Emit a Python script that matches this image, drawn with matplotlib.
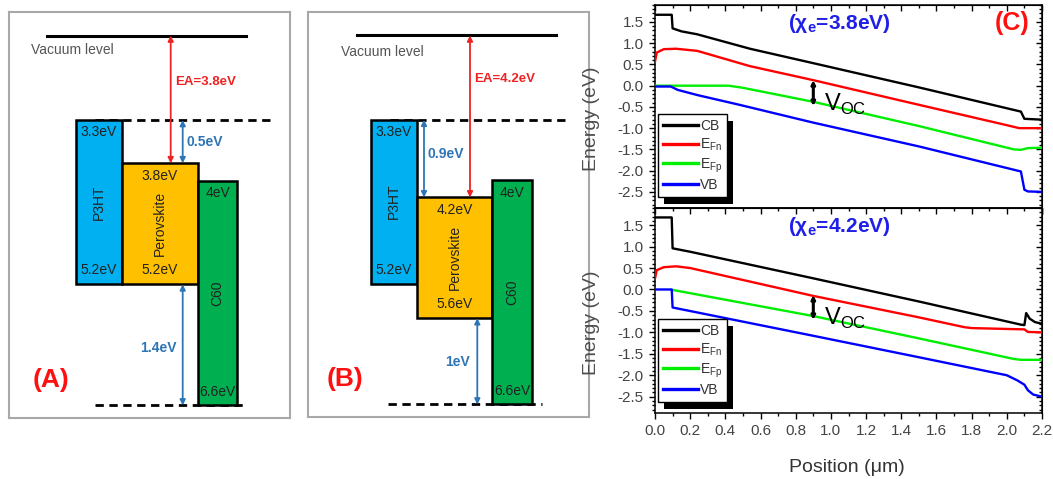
import matplotlib
matplotlib.use("Agg")
import matplotlib.pyplot as plt
from matplotlib.patches import Rectangle
from matplotlib.ticker import MultipleLocator, FormatStrFormatter

plt.rcParams['font.family'] = ['Liberation Sans', 'DejaVu Sans']

# ---- energy level schematics (eV below vacuum) ----
MATERIALS = ["P3HT", "Perovskite", "C60"]
LUMO_A = [3.3, 3.8, 4.0]
HOMO_A = [5.2, 5.2, 6.6]
LUMO_B = [3.3, 4.2, 4.0]
HOMO_B = [5.2, 5.6, 6.6]
BOX_COLORS = ["#00b0f0", "#ffc000", "#00b050"]

# ---- band diagrams, chi_e = 3.8 eV ----
X_CB_38 = [0, 0.095, 0.1, 0.15, 0.24, 0.54, 0.9, 1.5, 2.08, 2.1, 2.2]
CB_38 = [1.67, 1.67, 1.35, 1.28, 1.21, 0.87, 0.53, -0.04, -0.61, -0.78, -0.8]
X_FN_38 = [0, 0.01, 0.05, 0.12, 0.24, 0.54, 0.9, 1.5, 2.0, 2.07, 2.2]
FN_38 = [0.57, 0.78, 0.86, 0.87, 0.82, 0.46, 0.13, -0.45, -0.93, -1.0, -1.0]
X_FP_38 = [0, 0.42, 0.5, 0.9, 1.5, 2.04, 2.08, 2.12, 2.2]
FP_38 = [0.0, 0.0, -0.05, -0.38, -0.95, -1.5, -1.51, -1.47, -1.46]
X_VB_38 = [0, 0.09, 0.13, 0.24, 0.48, 0.9, 1.5, 2.08, 2.1, 2.12, 2.2]
VB_38 = [-0.02, -0.02, -0.1, -0.22, -0.45, -0.87, -1.43, -2.02, -2.45, -2.49, -2.5]

# ---- band diagrams, chi_e = 4.2 eV ----
X_CB_42 = [0, 0.095, 0.1, 0.2, 0.9, 1.5, 2.08, 2.1, 2.11, 2.13, 2.16, 2.2]
CB_42 = [1.68, 1.68, 0.96, 0.88, 0.26, -0.28, -0.82, -0.83, -0.55, -0.68, -0.76, -0.8]
X_FN_42 = [0, 0.01, 0.05, 0.12, 0.2, 0.9, 1.5, 1.76, 1.8, 2.1, 2.12, 2.2]
FN_42 = [0.26, 0.45, 0.52, 0.54, 0.5, -0.15, -0.65, -0.88, -0.9, -0.93, -0.99, -1.0]
X_FP_42 = [0.1, 0.9, 1.5, 2.04, 2.08, 2.2]
FP_42 = [-0.01, -0.62, -1.14, -1.62, -1.64, -1.64]
X_VB_42 = [0, 0.095, 0.1, 0.9, 1.5, 2.0, 2.06, 2.1, 2.12, 2.15, 2.2]
VB_42 = [0.0, 0.0, -0.42, -1.08, -1.58, -2.0, -2.12, -2.22, -2.35, -2.45, -2.5]

VOC_X = 0.9
VOC_38 = (0.13, -0.48)
VOC_42 = (-0.13, -0.71)

W, H = 1053, 479
fig = plt.figure(figsize=(W / 100, H / 100), dpi=100)


def px_axes(x0, y0, x1, y1):
    return fig.add_axes([x0 / W, 1 - y1 / H, (x1 - x0) / W, (y1 - y0) / H])


def py(y):
    # schematic pixel row -> energy scale used by the level panels
    return 3.3 + (y - 120) / 86.5


def level_panel(ax, lumo, homo, lay, tag):
    ax.set_xlim(0, 281)
    ax.set_ylim(py(418), py(12))
    ax.set_xticks([])
    ax.set_yticks([])
    for s in ax.spines.values():
        s.set_color("#a8a8a8")
        s.set_linewidth(1.5)

    vac = py(35.5)
    ax.plot(lay["vac"], [vac, vac], color="black", lw=2.2)
    ax.text(lay["vac_txt"], py(lay["vac_y"]), "Vacuum level", color="#555555",
            fontsize=10, va="center")
    ax.plot(lay["dash_top"], [lumo[0], lumo[0]], color="black", lw=2, ls=(0, (3, 2)))
    ax.plot(lay["dash_bot"], [homo[2], homo[2]], color="black", lw=2, ls=(0, (3, 2)))

    for i, name in enumerate(MATERIALS):
        x0, x1 = lay["boxes"][i]
        ax.add_patch(Rectangle((x0, lumo[i]), x1 - x0, homo[i] - lumo[i],
                               facecolor=BOX_COLORS[i], edgecolor="black", lw=1.8, zorder=3))
        xc = (x0 + x1) / 2
        ax.annotate(f"{lumo[i]:g}eV", (xc, lumo[i]), xytext=(0, -9), textcoords="offset points",
                    ha="center", va="center", fontsize=10, color="#222222", zorder=4)
        ax.annotate(f"{homo[i]:g}eV", (xc, homo[i]), xytext=(0, 10), textcoords="offset points",
                    ha="center", va="center", fontsize=10, color="#222222", zorder=4)
        ax.text(xc, (lumo[i] + homo[i]) / 2, name, rotation=90, ha="center", va="center",
                fontsize=10, color="#222222", zorder=4)

    red = "#ee2222"
    blue = "#2e75b6"
    ax.annotate("", xy=(lay["ea_x"], vac), xytext=(lay["ea_x"], lumo[1]),
                arrowprops=dict(arrowstyle="<|-|>", color=red, lw=1.3, mutation_scale=8,
                                shrinkA=0, shrinkB=0), zorder=5)
    ax.text(lay["ea_x"] + 4, py(lay["ea_y"]), f"EA={lumo[1]:g}eV", color=red,
            fontsize=9.5, fontweight="bold", va="center")

    ax.annotate("", xy=(lay["g1_x"], lumo[0]), xytext=(lay["g1_x"], lumo[1]),
                arrowprops=dict(arrowstyle="<|-|>", color=blue, lw=1.3, mutation_scale=8,
                                shrinkA=0, shrinkB=0), zorder=5)
    ax.text(lay["g1_x"] + 4, py(lay["g1_y"]), f"{lumo[1] - lumo[0]:.1f}eV", color=blue,
            fontsize=10, fontweight="bold", va="center")

    ax.annotate("", xy=(lay["g2_x"], homo[1]), xytext=(lay["g2_x"], homo[2]),
                arrowprops=dict(arrowstyle="<|-|>", color=blue, lw=1.3, mutation_scale=8,
                                shrinkA=0, shrinkB=0), zorder=5)
    ax.text(lay["g2_txt"], py(lay["g2_y"]), f"{homo[2] - homo[1]:g}eV", color=blue,
            fontsize=10, fontweight="bold", va="center", ha="right")

    ax.text(lay["tag_x"], py(380), tag, color="#ff1010", fontsize=19, fontweight="bold",
            ha="center", va="center")


ax_a = px_axes(9, 12, 290, 418)
level_panel(ax_a, LUMO_A, HOMO_A, dict(
    vac=[38, 237], vac_txt=22, vac_y=50, dash_top=[86, 264], dash_bot=[86, 238],
    boxes=[(67, 112.7), (112.7, 189), (189, 228)],
    ea_x=161.7, ea_y=82, g1_x=173.7, g1_y=142, g2_x=173.7, g2_txt=168, g2_y=348,
    tag_x=41.5), "(A)")

ax_b = px_axes(308, 12, 589, 417)
level_panel(ax_b, LUMO_B, HOMO_B, dict(
    vac=[48.7, 248], vac_txt=33, vac_y=52, dash_top=[82, 260], dash_bot=[80, 233.7],
    boxes=[(62.7, 108.7), (108.7, 184.3), (184.3, 223.7)],
    ea_x=162, ea_y=79, g1_x=116, g1_y=154, g2_x=169.3, g2_txt=162, g2_y=363,
    tag_x=36.8), "(B)")


def band_panel(ax, series, chi, voc, show_x):
    colors = ["black", "#ff0000", "#00ee00", "#0000ff"]
    labels = ["CB", r"E$_{\mathregular{Fn}}$", r"E$_{\mathregular{Fp}}$", "VB"]
    for (xs, ys), c, lab in zip(series, colors, labels):
        ax.plot(xs, ys, color=c, lw=1.7, label=lab, zorder=3)

    ax.set_xlim(0, 2.2)
    ax.set_ylim(-2.88, 1.9)
    ax.xaxis.set_major_locator(MultipleLocator(0.2))
    ax.xaxis.set_minor_locator(MultipleLocator(0.1))
    ax.yaxis.set_major_locator(MultipleLocator(0.5))
    ax.yaxis.set_minor_locator(MultipleLocator(0.1))
    ax.xaxis.set_major_formatter(FormatStrFormatter("%.1f"))
    ax.yaxis.set_major_formatter(FormatStrFormatter("%.1f"))
    for s in ax.spines.values():
        s.set_linewidth(1.1)
    ax.tick_params(which="both", left=True, bottom=True, top=False, right=False,
                   direction="out", labelsize=11, labelcolor="#444444", width=1)
    ax.tick_params(which="major", length=4.5)
    ax.tick_params(which="minor", length=2.5)
    ax.tick_params(labelbottom=show_x)

    # inward ticks on top and right
    twin_x = ax.secondary_xaxis("top")
    twin_x.xaxis.set_major_locator(MultipleLocator(0.2))
    twin_x.xaxis.set_minor_locator(MultipleLocator(0.1))
    twin_x.tick_params(which="both", direction="in", labeltop=False, width=1)
    twin_x.tick_params(which="major", length=4.5)
    twin_x.tick_params(which="minor", length=2.5)
    twin_y = ax.secondary_yaxis("right")
    twin_y.yaxis.set_major_locator(MultipleLocator(0.5))
    twin_y.yaxis.set_minor_locator(MultipleLocator(0.1))
    twin_y.tick_params(which="both", direction="in", labelright=False, width=1)
    twin_y.tick_params(which="major", length=4.5)
    twin_y.tick_params(which="minor", length=2.5)

    ax.text(1.05, 1.47, rf"($\mathregular{{\chi_e}}$={chi:g}eV)", color="#1f1fe8",
            fontsize=15, fontweight="bold", ha="center", va="center")
    ax.annotate("", xy=(VOC_X, voc[0]), xytext=(VOC_X, voc[1]),
                arrowprops=dict(arrowstyle="<|-|>", color="black", lw=2.2, mutation_scale=5,
                                shrinkA=0, shrinkB=0), zorder=5)
    ax.annotate(r"V$_{\mathregular{OC}}$", (VOC_X, voc[1]), xytext=(8, 1),
                textcoords="offset points", fontsize=17, va="center", color="black")

    leg = ax.legend(loc="lower left", bbox_to_anchor=(0.008, 0.054), borderaxespad=0,
                    fontsize=10, frameon=True, fancybox=False, handlelength=2.5,
                    handletextpad=0.15, labelspacing=0.25, borderpad=0.35)
    leg.get_frame().set_edgecolor("black")
    leg.get_frame().set_linewidth(1.0)
    leg.get_frame().set_alpha(1)
    for h in leg.legend_handles:
        h.set_linewidth(2.4)
    for t in leg.get_texts():
        t.set_color("#333333")
    return leg


ax_top = px_axes(655, 5, 1042, 208)
leg_top = band_panel(ax_top, [(X_CB_38, CB_38), (X_FN_38, FN_38), (X_FP_38, FP_38),
                              (X_VB_38, VB_38)], 3.8, VOC_38, False)
ax_top.text(2.03, 1.47, "(C)", color="#ff1010", fontsize=18, fontweight="bold",
            ha="center", va="center")

ax_bot = px_axes(655, 208, 1042, 413)
leg_bot = band_panel(ax_bot, [(X_CB_42, CB_42), (X_FN_42, FN_42), (X_FP_42, FP_42),
                              (X_VB_42, VB_42)], 4.2, VOC_42, True)

fig.text(591 / W, 1 - 119 / H, "Energy (eV)", rotation=90, fontsize=14, color="#4d4d4d",
         ha="center", va="center")
fig.text(591 / W, 1 - 323 / H, "Energy (eV)", rotation=90, fontsize=14, color="#4d4d4d",
         ha="center", va="center")
fig.text(847 / W, 1 - 467 / H, "Position (\u03bcm)", fontsize=14, color="#333333",
         ha="center", va="center")

# drop shadows behind the legends
fig.canvas.draw()
for ax, leg in [(ax_top, leg_top), (ax_bot, leg_bot)]:
    bb = leg.get_window_extent().transformed(ax.transAxes.inverted())
    dx = 6 / 387
    dy = 7 / ax.get_window_extent().height
    ax.add_patch(Rectangle((bb.x0 + dx, bb.y0 - dy), bb.width, bb.height, facecolor="black",
                           edgecolor="none", transform=ax.transAxes, clip_on=False, zorder=4))

fig.savefig("out.png", dpi=100)
